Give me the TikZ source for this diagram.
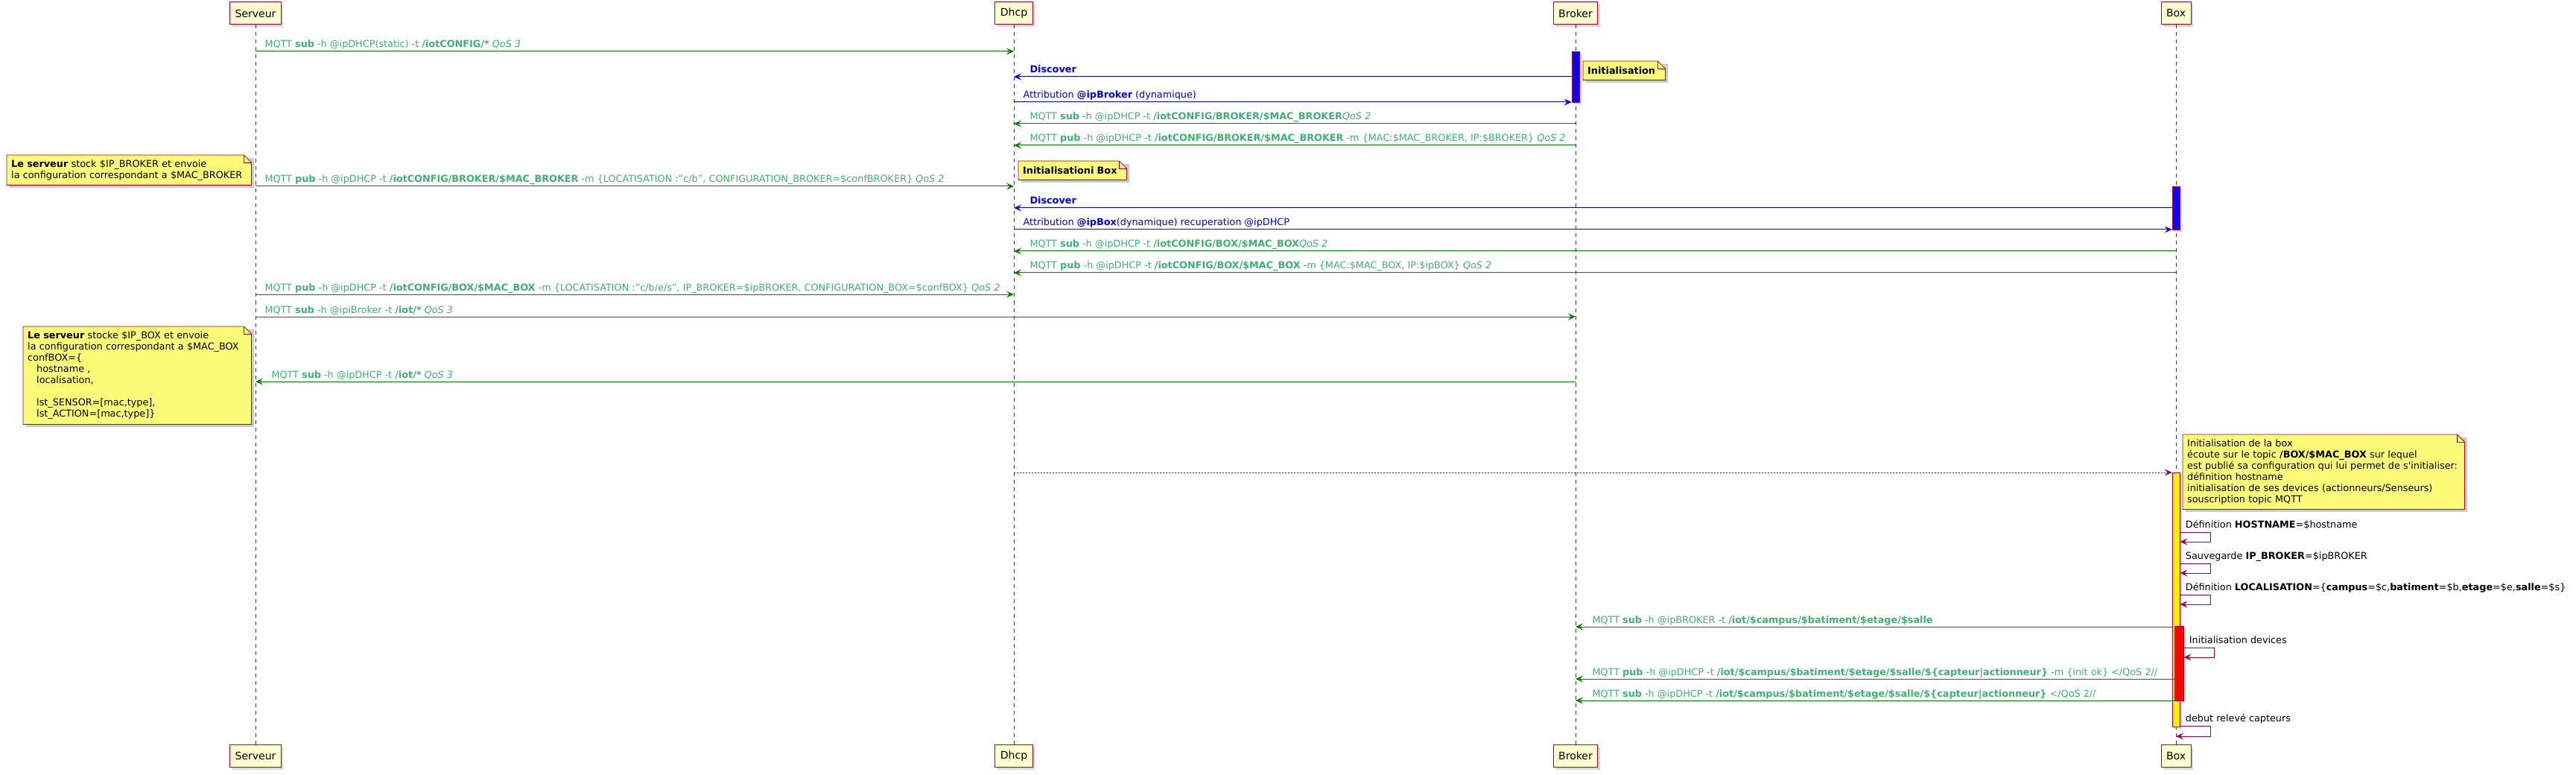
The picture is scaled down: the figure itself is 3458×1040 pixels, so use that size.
\documentclass[tikz,border=0pt]{standalone}
\usepackage{fontspec}
\setmainfont{DejaVu Sans}
\usepackage{tikz}
\usetikzlibrary{arrows.meta, positioning, backgrounds, shadows}

\definecolor{umlred}{HTML}{A80036}
\definecolor{partfill}{HTML}{FEFECE}
\definecolor{notefill}{HTML}{FBFB77}
\definecolor{umlgreen}{HTML}{008000}
\definecolor{umlgreentext}{HTML}{3CB371}

\begin{document}
\begin{tikzpicture}[
  x=1pt, y=-1pt,
  >={Stealth[length=10pt, width=9pt, inset=4pt]},
  every node/.style={font=\fontsize{12.8}{15}\selectfont},
  participant/.style={
    draw=umlred, fill=partfill, line width=1pt, minimum height=30pt,
    inner xsep=7pt, font=\fontsize{14}{16}\selectfont,
    drop shadow={shadow xshift=3pt, shadow yshift=-3pt, fill=black!30, opacity=0.5}
  },
  lifeline/.style={draw=umlred, dash pattern=on 5pt off 5pt, line width=0.8pt},
  actbar/.style={
    draw=umlred, line width=0.8pt, minimum width=10pt, inner sep=0pt,
    drop shadow={shadow xshift=3pt, shadow yshift=-3pt, fill=black!30, opacity=0.5}
  },
  greenmsg/.style={->, draw=umlgreen, line width=1pt},
  bluemsg/.style={->, draw=blue, line width=1pt},
  selfmsg/.style={->, draw=umlred, line width=1pt},
  dotmsg/.style={->, draw=umlred, line width=1pt, dash pattern=on 2pt off 2pt},
  gtext/.style={text=umlgreentext, anchor=base west, inner sep=0pt},
  btext/.style={text=blue, anchor=base west, inner sep=0pt},
  ktext/.style={anchor=base west, inner sep=0pt},
  notebox/.style={anchor=north west, align=left, inner xsep=6pt, inner ysep=4pt},
  notefold/.style={draw=umlred, fill=notefill, line width=0.8pt}
]
\useasboundingbox (0,0) rectangle (3458,1040);

% --- Participants ---
\node[participant] (serveur) at (343,18) {Serveur};
\node[participant] (dhcp) at (1361,18) {Dhcp};
\node[participant] (broker) at (2115,18) {Broker};
\node[participant] (box) at (2921,18) {Box};
\node[participant] (serveurb) at (343,1014.5) {Serveur};
\node[participant] (dhcpb) at (1361,1014.5) {Dhcp};
\node[participant] (brokerb) at (2115,1014.5) {Broker};
\node[participant] (boxb) at (2921,1014.5) {Box};

% --- Lifelines ---
\draw[lifeline] (serveur) -- (serveurb);
\draw[lifeline] (dhcp) -- (dhcpb);
\draw[lifeline] (broker) -- (brokerb);
\draw[lifeline] (box) -- (boxb);

% --- Activations ---
\node[actbar, fill=blue, minimum height=68pt] (actbroker) at (2115,103) {};
\node[actbar, fill=blue, minimum height=58pt] (actbox) at (2921,279) {};
\node[actbar, fill=yellow, minimum height=341pt] (actboxinit) at (2921,804.5) {};
\node[actbar, fill=red, minimum width=12pt, minimum height=100pt] (actdevices) at (2925,890) {};

% --- Broker start-up ---
\draw[greenmsg] (serveur |- 0,69) -- (dhcp |- 0,69)
  node[gtext, at start, xshift=12pt, yshift=5pt] (subconfig) {MQTT \textbf{sub} -h @ipDHCP(static) -t \textbf{/iotCONFIG/*} \textit{QoS 3}};
\draw[bluemsg] (actbroker.west |- 0,103) -- (dhcp |- 0,103)
  node[btext, at end, xshift=21pt, yshift=5pt] (discbroker) {\textbf{Discover}};
\draw[bluemsg] (dhcp |- 0,137) -- (actbroker.west |- 0,137)
  node[btext, at start, xshift=12pt, yshift=5pt] (attrbroker) {Attribution \textbf{@ipBroker} (dynamique)};
\draw[greenmsg] (broker |- 0,166) -- (dhcp |- 0,166)
  node[gtext, at end, xshift=21pt, yshift=5pt] (subbroker) {MQTT \textbf{sub} -h @ipDHCP -t \textbf{/iotCONFIG/BROKER/\$MAC\_BROKER}\textit{QoS 2}};
\draw[greenmsg] (broker |- 0,195) -- (dhcp |- 0,195)
  node[gtext, at end, xshift=21pt, yshift=5pt] (pubbroker) {MQTT \textbf{pub} -h @ipDHCP -t \textbf{/iotCONFIG/BROKER/\$MAC\_BROKER} -m \{MAC:\$MAC\_BROKER, IP:\$BROKER\} \textit{QoS 2}};
\draw[greenmsg] (serveur |- 0,250) -- (dhcp |- 0,250)
  node[gtext, at start, xshift=12pt, yshift=5pt] (confbroker) {MQTT \textbf{pub} -h @ipDHCP -t \textbf{/iotCONFIG/BROKER/\$MAC\_BROKER} -m \{LOCATISATION :"c/b", CONFIGURATION\_BROKER=\$confBROKER\} \textit{QoS 2}};

% --- Box start-up ---
\draw[bluemsg] (actbox.west |- 0,279) -- (dhcp |- 0,279)
  node[btext, at end, xshift=21pt, yshift=5pt] (discbox) {\textbf{Discover}};
\draw[bluemsg] (dhcp |- 0,308) -- (actbox.west |- 0,308)
  node[btext, at start, xshift=12pt, yshift=5pt] (attrbox) {Attribution \textbf{@ipBox}(dynamique) recuperation @ipDHCP};
\draw[greenmsg] (box |- 0,337) -- (dhcp |- 0,337)
  node[gtext, at end, xshift=21pt, yshift=5pt] (subbox) {MQTT \textbf{sub} -h @ipDHCP -t \textbf{/iotCONFIG/BOX/\$MAC\_BOX}\textit{QoS 2}};
\draw[greenmsg] (box |- 0,366) -- (dhcp |- 0,366)
  node[gtext, at end, xshift=21pt, yshift=5pt] (pubbox) {MQTT \textbf{pub} -h @ipDHCP -t \textbf{/iotCONFIG/BOX/\$MAC\_BOX} -m \{MAC:\$MAC\_BOX, IP:\$ipBOX\} \textit{QoS 2}};
\draw[greenmsg] (serveur |- 0,395) -- (dhcp |- 0,395)
  node[gtext, at start, xshift=12pt, yshift=5pt] (confbox) {MQTT \textbf{pub} -h @ipDHCP -t \textbf{/iotCONFIG/BOX/\$MAC\_BOX} -m \{LOCATISATION :"c/b/e/s", IP\_BROKER=\$ipBROKER, CONFIGURATION\_BOX=\$confBOX\} \textit{QoS 2}};
\draw[greenmsg] (serveur |- 0,425) -- (broker |- 0,425)
  node[gtext, at start, xshift=12pt, yshift=5pt] (subiot) {MQTT \textbf{sub} -h @ipiBroker -t \textbf{/iot/*} \textit{QoS 3}};
\draw[greenmsg] (broker |- 0,512) -- (serveur |- 0,512)
  node[gtext, at end, xshift=21pt, yshift=5pt] (subiotdhcp) {MQTT \textbf{sub} -h @ipDHCP -t \textbf{/iot/*} \textit{QoS 3}};

% --- Box initialisation ---
\draw[dotmsg] (dhcp |- 0,634) -- (actboxinit.west |- 0,634);
\draw[selfmsg] (actboxinit.east |- 0,714) -- ++(41,0)
  node[ktext, at start, xshift=7pt, yshift=6pt] (defhost) {Définition \textbf{HOSTNAME}=\$hostname}
  -- ++(0,13) -- (actboxinit.east |- 0,727);
\draw[selfmsg] (actboxinit.east |- 0,756) -- ++(41,0)
  node[ktext, at start, xshift=7pt, yshift=6pt] (savebroker) {Sauvegarde \textbf{IP\_BROKER}=\$ipBROKER}
  -- ++(0,13) -- (actboxinit.east |- 0,769);
\draw[selfmsg] (actboxinit.east |- 0,798) -- ++(41,0)
  node[ktext, at start, xshift=7pt, yshift=6pt] (defloc) {Définition \textbf{LOCALISATION}=\{\textbf{campus}=\$c,\textbf{batiment}=\$b,\textbf{etage}=\$e,\textbf{salle}=\$s\}}
  -- ++(0,13) -- (actboxinit.east |- 0,811);
\draw[greenmsg] (actboxinit.west |- 0,841) -- (broker |- 0,841)
  node[gtext, at end, xshift=22pt, yshift=5pt] (subsalle) {MQTT \textbf{sub} -h @ipBROKER -t \textbf{/iot/\$campus/\$batiment/\$etage/\$salle}};
\draw[selfmsg] (actdevices.east |- 0,869) -- ++(41,0)
  node[ktext, at start, xshift=7pt, yshift=6pt] (initdev) {Initialisation devices}
  -- ++(0,13) -- (actdevices.east |- 0,882);
\draw[greenmsg] (actdevices.west |- 0,911) -- (broker |- 0,911)
  node[gtext, at end, xshift=22pt, yshift=5pt] (pubdev) {MQTT \textbf{pub} -h @ipDHCP -t \textbf{/iot/\$campus/\$batiment/\$etage/\$salle/\$\{capteur|actionneur\}} -m \{init ok\} </QoS 2//};
\draw[greenmsg] (actdevices.west |- 0,940) -- (broker |- 0,940)
  node[gtext, at end, xshift=22pt, yshift=5pt] (subdev) {MQTT \textbf{sub} -h @ipDHCP -t \textbf{/iot/\$campus/\$batiment/\$etage/\$salle/\$\{capteur|actionneur\}} </QoS 2//};
\draw[selfmsg] (actboxinit.east |- 0,974) -- ++(41,0)
  node[ktext, at start, xshift=7pt, yshift=6pt] (releve) {debut relevé capteurs}
  -- ++(0,14) -- (box |- 0,988);

% --- Notes ---
\node[notebox, text width=98pt, minimum height=25pt] (noteinit) at (2125,82) {\textbf{Initialisation}};
\node[notebox, text width=133pt, minimum height=25pt] (noteinitbox) at (1367,216) {\textbf{Initialisationi Box}};
\node[notebox, text width=316pt, minimum height=40pt] (notesrvbroker) at (9,208)
  {\textbf{Le serveur} stock \$IP\_BROKER et envoie\\la configuration correspondant a \$MAC\_BROKER};
\node[notebox, text width=294pt, minimum height=131pt] (notesrvbox) at (31,438)
  {\textbf{Le serveur} stocke \$IP\_BOX et envoie\\
   la configuration correspondant a \$MAC\_BOX\\
   confBOX=\{\\
   \hspace*{12pt}hostname ,\\
   \hspace*{12pt}localisation,\\
   \mbox{}\\
   \hspace*{12pt}lst\_SENSOR=[mac,type],\\
   \hspace*{12pt}lst\_ACTION=[mac,type]\}};
\node[notebox, text width=366pt, minimum height=100pt] (noteboxinit) at (2930,583)
  {Initialisation de la box\\
   écoute sur le topic \textbf{/BOX/\$MAC\_BOX} sur lequel\\
   est publié sa configuration qui lui permet de s\textquotesingle initialiser:\\
   définition hostname\\
   initialisation de ses devices (actionneurs/Senseurs)\\
   souscription topic MQTT};

\begin{scope}[on background layer]
  \foreach \n in {noteinit, noteinitbox, notesrvbroker, notesrvbox, noteboxinit} {
    \fill[black!20] ([shift={(4pt,-4pt)}]\n.north west) rectangle ([shift={(4pt,-4pt)}]\n.south east);
    \filldraw[notefold] (\n.north west) -- ([xshift=-10pt]\n.north east) -- ([yshift=-10pt]\n.north east)
      -- (\n.south east) -- (\n.south west) -- cycle;
    \draw[notefold, fill=none] ([xshift=-10pt]\n.north east) -- ([xshift=-10pt, yshift=-10pt]\n.north east)
      -- ([yshift=-10pt]\n.north east);
  }
\end{scope}

\end{tikzpicture}
\end{document}
